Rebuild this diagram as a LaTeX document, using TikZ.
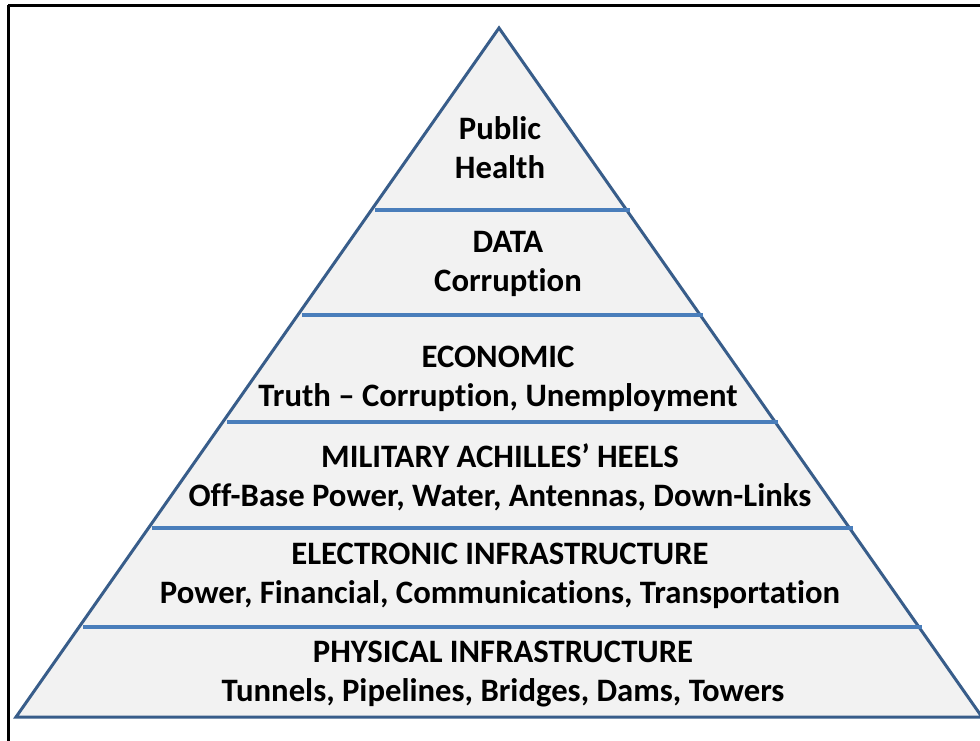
\documentclass[tikz,border=0pt]{standalone}
\usepackage{fontspec}
\setmainfont{Carlito}[Ligatures={NoCommon}]
\usetikzlibrary{calc}
\definecolor{outl}{HTML}{385D8A}
\definecolor{divl}{HTML}{4A7EBB}
\definecolor{fillg}{HTML}{F2F2F2}
\tikzset{
  lbl/.style={align=center, font=\bfseries\fontsize{32.7}{39}\selectfont, inner sep=0pt, text=black},
  divider/.style={draw=divl, line width=3.5pt},
}
\begin{document}
\begin{tikzpicture}[x=1pt,y=-1pt]
\useasboundingbox (0,0) rectangle (980,740);
\fill[white] (0,0) rectangle (980,740);
\draw[black, line width=3pt] (8,5) -- (990,5);
\draw[black, line width=3pt] (8,5) -- (8,750);
\coordinate (A) at (499,28);
\coordinate (L) at (16,717);
\coordinate (R) at (982,717);
\draw[outl, fill=fillg, line width=3pt, line join=miter] (A) -- (L) -- (R) -- cycle;
\foreach \t/\n in {0.264/1, 0.4165/2, 0.5718/3, 0.7257/4, 0.8694/5}{
  \coordinate (l\n) at ($(A)!\t!(L)$);
  \coordinate (r\n) at ($(A)!\t!(R)$);
}
\foreach \n in {1,...,5}{
  \draw[divider] ([xshift=4pt]l\n) -- ([xshift=3pt]r\n);
}
\node[lbl] (t1) at (500,148) {Public\\Health};
\node[lbl] (t2) at (508,264) {DATA\\Corruption};
\node[lbl] (t3) at (498,379) {ECONOMIC\\Truth – Corruption, Unemployment};
\node[lbl] (t4) at (500,477) {MILITARY ACHILLES’ HEELS\\Off-Base Power, Water, Antennas, Down-Links};
\node[lbl] (t5) at (500,576) {ELECTRONIC INFRASTRUCTURE\\Power, Financial, Communications, Transportation};
\node[lbl] (t6) at (503,674) {PHYSICAL INFRASTRUCTURE\\Tunnels, Pipelines, Bridges, Dams, Towers};
\end{tikzpicture}
\end{document}
